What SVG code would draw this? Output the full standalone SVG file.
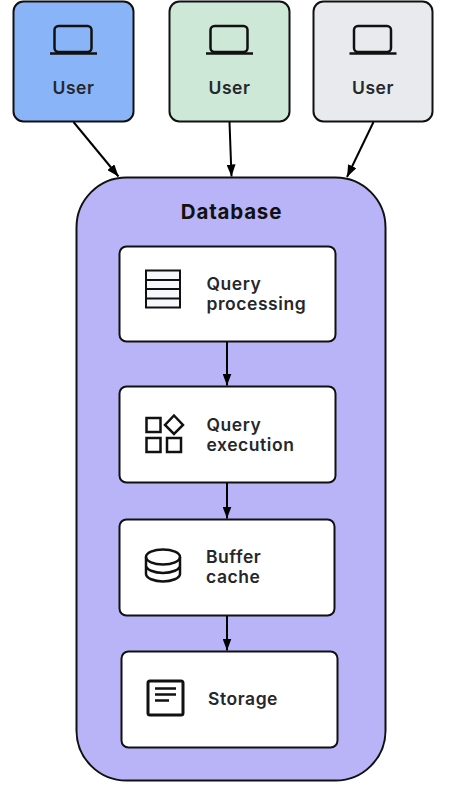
<svg xmlns="http://www.w3.org/2000/svg" width="461" height="791" viewBox="0 0 461 791">
<style>
.box{stroke:#111;stroke-width:2}
.icon{fill:none;stroke:#111;stroke-width:2.500}
.thin{fill:none;stroke:#111;stroke-width:2}
.t{font-family:Inter,"Liberation Sans",sans-serif;font-size:17.5px;font-weight:600;fill:#26272b;letter-spacing:.55px}
.c{fill:none;stroke:#000;stroke-width:2;marker-end:url(#arr)}
</style>
<defs>
<marker id="arr" viewBox="0 0 12 9" refX="12" refY="4.500" markerWidth="12" markerHeight="9" markerUnits="userSpaceOnUse" orient="auto"><path d="M0 0L12 4.500L0 9Z" fill="#000"/></marker>
<g id="laptop"><rect x="-19" y="-20" width="37" height="26" rx="4" class="icon"/><path d="M-23.500 7.500H23.500" stroke="#111" stroke-width="2.500"/></g>
</defs>
<rect id="bg" width="461" height="791" fill="#fff"/>
<g id="user1"><rect class="box" x="13.500" y="1.500" width="120" height="120" rx="10" fill="#8ab4f8"/><use href="#laptop" x="73.500" y="46"/><text class="t" x="73.500" y="94" text-anchor="middle">User</text></g>
<g id="user2"><rect class="box" x="169.500" y="1.500" width="120" height="120" rx="10" fill="#cee8d8"/><use href="#laptop" x="229.500" y="46"/><text class="t" x="229.500" y="94" text-anchor="middle">User</text></g>
<g id="user3"><rect class="box" x="313.500" y="1.500" width="119" height="120" rx="10" fill="#e8eaed"/><use href="#laptop" x="373" y="46"/><text class="t" x="373" y="94" text-anchor="middle">User</text></g>
<g id="database"><rect class="box" x="76.500" y="177.500" width="309" height="603" rx="50" fill="#b9b4f7"/><text x="231.500" y="218.500" text-anchor="middle" font-family="Inter,'Liberation Sans',sans-serif" font-size="20.500px" font-weight="700" letter-spacing=".8" fill="#111">Database</text></g>
<g id="query-processing"><rect class="box" x="119.500" y="246.500" width="216" height="95" rx="7" fill="#fff"/>
<rect x="146" y="270.500" width="34" height="37" fill="#f6f8fb" stroke="#111" stroke-width="2"/><path d="M146 280H180M146 289H180M146 298.500H180" class="thin"/>
<text class="t" x="206.500" y="290">Query</text><text class="t" x="206.500" y="310">processing</text></g>
<g id="query-execution"><rect class="box" x="119.500" y="386.500" width="216" height="96" rx="7" fill="#fff"/>
<rect x="146.500" y="418" width="14" height="14" class="icon"/><path d="M174 415.500L183 425L174 434L165 425Z" class="icon"/><rect x="146.500" y="438" width="14" height="14" class="icon"/><rect x="167" y="438" width="14" height="14" class="icon"/>
<text class="t" x="206.500" y="431">Query</text><text class="t" x="206.500" y="451">execution</text></g>
<g id="buffer-cache"><rect class="box" x="119.500" y="519.500" width="215" height="96" rx="7" fill="#fff"/>
<ellipse cx="163" cy="557" rx="17" ry="7.500" class="icon"/><path d="M146 557V574C146 578 154 581.500 163 581.500C172 581.500 180 578 180 574V557M146 565.500C146 569.500 154 573 163 573C172 573 180 569.500 180 565.500" class="icon"/>
<text class="t" x="206" y="563">Buffer</text><text class="t" x="206" y="583">cache</text></g>
<g id="storage"><rect class="box" x="121.500" y="651.500" width="216" height="96" rx="7" fill="#fff"/>
<rect x="148" y="681" width="35" height="34" rx="2" fill="none" stroke="#111" stroke-width="3"/><path d="M155 688.500H176M155 694.500H176M155 700.500H169" class="icon"/>
<text class="t" x="208" y="705">Storage</text></g>
<g id="connectors">
<path class="c" d="M73.500 122L118.500 176.500"/>
<path class="c" d="M229.500 122L231.500 176.500"/>
<path class="c" d="M373.500 122L347 177"/>
<path class="c" d="M227 342V385.500"/>
<path class="c" d="M227 483V518.500"/>
<path class="c" d="M227 616V650.500"/>
</g>
</svg>
